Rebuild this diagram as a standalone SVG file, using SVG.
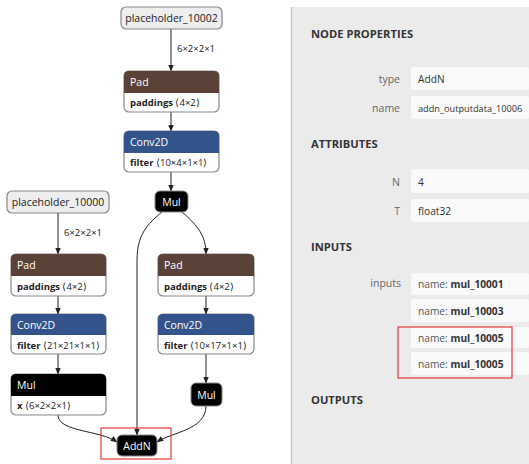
<svg xmlns="http://www.w3.org/2000/svg" width="529" height="464" viewBox="0 0 529 464">
<defs>
<marker id="arr" viewBox="0 0 10 10" refX="9" refY="5" markerWidth="7" markerHeight="7" markerUnits="userSpaceOnUse" orient="auto">
<path d="M0,1 L10,5 L0,9 z" fill="#222"/>
</marker>
<style>
text{font-family:"Segoe UI","Open Sans","Liberation Sans",sans-serif}
.t{font-size:10.5px;fill:#fff}
.a{font-size:9.5px;fill:#222}
.b{font-weight:bold}
.ph{fill:#eeeeee;stroke:#888;stroke-width:1.2}
.frame{fill:#fff;stroke:#888;stroke-width:1.2}
.edge{fill:none;stroke:#222;stroke-width:1;marker-end:url(#arr)}
.lbl{font-size:9.5px;fill:#222}
.plabel{font-size:10.5px;fill:#666;text-anchor:end}
.head{font-size:11.2px;fill:#333;font-weight:bold}
.vbox{fill:#fafafa}
.val{font-size:10.2px;fill:#333}
.red{fill:none;stroke:#e53935;stroke-width:1.2}
</style>
</defs>
<rect width="529" height="464" fill="#fff"/>

<g id="connectors">
<path class="edge" d="M171,29 L171,71"/>
<text class="lbl" x="177" y="52">6×2×2×1</text>
<path class="edge" d="M171,112 L171,131"/>
<path class="edge" d="M171,172 L171,191"/>
<path class="edge" d="M58,213 L58,254"/>
<text class="lbl" x="64" y="236">6×2×2×1</text>
<path class="edge" d="M58,296 L58,314"/>
<path class="edge" d="M58,354 L58,374"/>
<path class="edge" d="M206,296 L206,314"/>
<path class="edge" d="M206,354 L206,383"/>
<path class="edge" d="M162,212 C142,228 137,240 137,262 L137,435"/>
<path class="edge" d="M182,212 C198,226 206,236 206,254"/>
<path class="edge" d="M58,415 C58,432 100,430 117,442"/>
<path class="edge" d="M206,406 C206,430 172,432 157,442"/>
</g>

<g id="placeholder_10002">
<rect class="ph" x="121" y="7" width="101" height="22" rx="5"/>
<text x="171.5" y="22" text-anchor="middle" style="font-size:10.5px;fill:#222">placeholder_10002</text>
</g>

<g id="pad_top">
<rect class="frame" x="124" y="71" width="95" height="41" rx="5"/>
<path d="M124,93 L124,76 Q124,71 129,71 L214,71 Q219,71 219,76 L219,93 z" fill="#5a4239"/>
<text class="t" x="130" y="86">Pad</text>
<text class="a" x="130" y="106"><tspan class="b">paddings</tspan> ⟨4×2⟩</text>
</g>

<g id="conv_top">
<rect class="frame" x="124" y="131" width="95" height="41" rx="5"/>
<path d="M124,153 L124,136 Q124,131 129,131 L214,131 Q219,131 219,136 L219,153 z" fill="#33548a"/>
<text class="t" x="130" y="146">Conv2D</text>
<text class="a" x="130" y="166"><tspan class="b">filter</tspan> ⟨10×4×1×1⟩</text>
</g>

<g id="mul_top">
<rect x="155" y="191" width="33" height="21" rx="5" fill="#000" stroke="#888" stroke-width="1"/>
<text class="t" x="171.5" y="205.5" text-anchor="middle">Mul</text>
</g>

<g id="placeholder_10000">
<rect class="ph" x="7" y="191" width="102" height="22" rx="5"/>
<text x="58" y="206" text-anchor="middle" style="font-size:10.5px;fill:#222">placeholder_10000</text>
</g>

<g id="pad_left">
<rect class="frame" x="11" y="254" width="95" height="42" rx="5"/>
<path d="M11,276 L11,259 Q11,254 16,254 L101,254 Q106,254 106,259 L106,276 z" fill="#5a4239"/>
<text class="t" x="17" y="269">Pad</text>
<text class="a" x="17" y="290"><tspan class="b">paddings</tspan> ⟨4×2⟩</text>
</g>

<g id="pad_right">
<rect class="frame" x="158" y="254" width="96" height="42" rx="5"/>
<path d="M158,276 L158,259 Q158,254 163,254 L249,254 Q254,254 254,259 L254,276 z" fill="#5a4239"/>
<text class="t" x="164" y="269">Pad</text>
<text class="a" x="164" y="290"><tspan class="b">paddings</tspan> ⟨4×2⟩</text>
</g>

<g id="conv_left">
<rect class="frame" x="11" y="314" width="95" height="40" rx="5"/>
<path d="M11,335 L11,319 Q11,314 16,314 L101,314 Q106,314 106,319 L106,335 z" fill="#33548a"/>
<text class="t" x="17" y="329">Conv2D</text>
<text class="a" x="17" y="349"><tspan class="b">filter</tspan> ⟨21×21×1×1⟩</text>
</g>

<g id="conv_right">
<rect class="frame" x="158" y="314" width="96" height="40" rx="5"/>
<path d="M158,335 L158,319 Q158,314 163,314 L249,314 Q254,314 254,319 L254,335 z" fill="#33548a"/>
<text class="t" x="164" y="329">Conv2D</text>
<text class="a" x="164" y="349"><tspan class="b">filter</tspan> ⟨10×17×1×1⟩</text>
</g>

<g id="mul_left">
<rect class="frame" x="11" y="374" width="95" height="41" rx="5"/>
<path d="M11,396 L11,379 Q11,374 16,374 L101,374 Q106,374 106,379 L106,396 z" fill="#000"/>
<text class="t" x="17" y="389">Mul</text>
<text class="a" x="17" y="409"><tspan class="b">x</tspan> ⟨6×2×2×1⟩</text>
</g>

<g id="mul_right">
<rect x="191" y="383" width="31" height="23" rx="5" fill="#000" stroke="#888" stroke-width="1"/>
<text class="t" x="206.5" y="398.5" text-anchor="middle">Mul</text>
</g>

<g id="addn">
<rect x="117" y="435" width="40" height="21" rx="5" fill="#000" stroke="#888" stroke-width="1"/>
<text class="t" x="137" y="449.5" text-anchor="middle">AddN</text>
<rect class="red" x="101" y="428" width="70" height="31"/>
</g>

<g id="panel">
<rect x="291" y="7" width="238" height="457" fill="#ebebeb"/>
<line x1="291.5" y1="7" x2="291.5" y2="464" stroke="#c8c8c8" stroke-width="1.5"/>
<text class="head" x="311" y="38">NODE PROPERTIES</text>
<text class="plabel" x="400" y="83">type</text>
<rect class="vbox" x="411" y="67" width="118" height="23" rx="2"/>
<text class="val" x="418" y="82.5">AddN</text>
<text class="plabel" x="400" y="112">name</text>
<rect class="vbox" x="411" y="96" width="118" height="23" rx="2"/>
<text class="val" x="418" y="111.5" style="font-size:9.2px">addn_outputdata_10006</text>
<text class="head" x="311" y="148">ATTRIBUTES</text>
<text class="plabel" x="400" y="186">N</text>
<rect class="vbox" x="411" y="169" width="118" height="24" rx="2"/>
<text class="val" x="418" y="185.5">4</text>
<text class="plabel" x="400" y="215">T</text>
<rect class="vbox" x="411" y="199" width="118" height="23" rx="2"/>
<text class="val" x="418" y="214.5">float32</text>
<text class="head" x="311" y="251">INPUTS</text>
<text class="plabel" x="401" y="287">inputs</text>
<rect class="vbox" x="411" y="273" width="118" height="22" rx="2"/>
<text class="val" x="418" y="288"><tspan fill="#555">name: </tspan><tspan class="b">mul_10001</tspan></text>
<rect class="vbox" x="411" y="299" width="118" height="23" rx="2"/>
<text class="val" x="418" y="314.5"><tspan fill="#555">name: </tspan><tspan class="b">mul_10003</tspan></text>
<rect class="vbox" x="411" y="327" width="118" height="21" rx="2"/>
<text class="val" x="418" y="341.5"><tspan fill="#555">name: </tspan><tspan class="b">mul_10005</tspan></text>
<rect class="vbox" x="411" y="352" width="118" height="23" rx="2"/>
<text class="val" x="418" y="367.5"><tspan fill="#555">name: </tspan><tspan class="b">mul_10005</tspan></text>
<rect class="red" x="398" y="327" width="114" height="51"/>
<text class="head" x="311" y="404">OUTPUTS</text>
</g>
</svg>
